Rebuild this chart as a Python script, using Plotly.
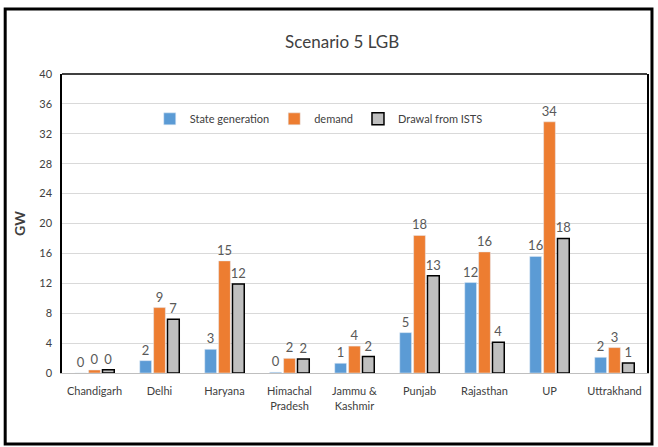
import plotly.graph_objects as go

categories = ["Chandigarh", "Delhi", "Haryana", "Himachal<br>Pradesh", "Jammu &<br>Kashmir",
              "Punjab", "Rajasthan", "UP", "Uttrakhand"]
state_generation = [0.0, 1.65, 3.17, 0.1, 1.3, 5.4, 12.1, 15.6, 2.1]
demand = [0.4, 8.75, 15.0, 1.96, 3.6, 18.4, 16.2, 33.6, 3.4]
drawal_from_ists = [0.45, 7.2, 11.9, 1.87, 2.2, 13.0, 4.1, 18.0, 1.34]
y_ticks = [0, 4, 8, 12, 16, 20, 24, 28, 32, 36, 40]

FONT = "Lato, Liberation Sans Narrow, Arial"
label_font = dict(family=FONT, size=13, color="#595959")

fig = go.Figure()
common = dict(texttemplate="%{y:.0f}", textposition="outside", textfont=label_font,
              cliponaxis=False, constraintext="none")
fig.add_bar(name="State generation", x=categories, y=state_generation,
            marker=dict(color="#5B9BD5"), **common)
fig.add_bar(name="demand", x=categories, y=demand,
            marker=dict(color="#ED7D31"), **common)
fig.add_bar(name="Drawal from ISTS", x=categories, y=drawal_from_ists,
            marker=dict(color="#BFBFBF", line=dict(color="#000000", width=1.5)), **common)

fig.update_layout(
    width=658, height=447,
    margin=dict(l=62, r=9, t=74, b=74),
    paper_bgcolor="white", plot_bgcolor="white",
    barmode="group", bargap=0.36, bargroupgap=0.15,
    title=dict(text="Scenario 5 LGB", x=0.52, xanchor="center", y=0.905, yanchor="middle",
               font=dict(family=FONT, size=17, color="#404040")),
    font=dict(family=FONT, color="#404040"),
    legend=dict(orientation="h", x=0.15, xanchor="left", y=0.85, yanchor="middle",
                font=dict(family=FONT, size=11, color="#404040"),
                bgcolor="rgba(0,0,0,0)", itemwidth=30, tracegroupgap=0),
    showlegend=True,
)
fig.update_xaxes(showline=True, linecolor="#BFBFBF", linewidth=1, ticks="",
                 ticklabelstandoff=8,
                 tickfont=dict(family=FONT, size=11, color="#404040"), showgrid=False)
fig.update_yaxes(range=[0, 40], tickvals=y_ticks, showgrid=True, gridcolor="#D9D9D9",
                 gridwidth=1, showline=True, linecolor="#000000", linewidth=1.5, mirror=True,
                 zeroline=False, ticks="", ticklabelstandoff=6,
                 tickfont=dict(family=FONT, size=11, color="#404040"),
                 title=dict(text="<b>GW</b>", standoff=10,
                            font=dict(family=FONT, size=14, color="#404040")))
# top border of plot area
fig.add_shape(type="line", xref="paper", yref="paper", x0=0, x1=1, y0=1, y1=1,
              line=dict(color="#000000", width=1.5))
# outer frame around whole chart
W, H = 587.0, 299.0
def px(xp):
    return (xp - 62) / W
def py(yp):
    return (373 - yp) / H
fig.add_shape(type="rect", xref="paper", yref="paper",
              x0=px(5), x1=px(654), y0=py(444), y1=py(9),
              line=dict(color="#000000", width=3), layer="above")

fig.write_html("out.html", config={"displayModeBar": False},
               post_script="document.body.style.margin='0';document.body.style.overflow='hidden';")
